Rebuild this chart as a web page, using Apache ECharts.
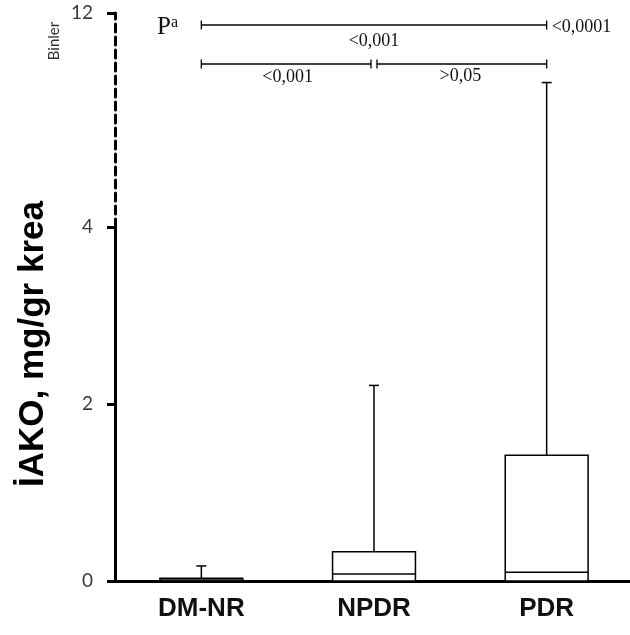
<!DOCTYPE html>
<html><head><meta charset="utf-8">
<script src="https://cdn.jsdelivr.net/npm/echarts@6.0.0/dist/echarts.min.js"></script>
<style>html,body{margin:0;padding:0;background:#fff}#c{width:630px;height:635px}</style>
</head><body><div id="c"></div>
<script>
// ---- data (values in thousands, "Binler") ----
const categories = ['DM-NR', 'NPDR', 'PDR'];
const minValues = [0, 0, 0];
const q1Values = [0, 0, 0];
const medianValues = [0.01, 0.08, 0.10];
const q3Values = [0.03, 0.33, 1.42];
const maxValues = [0.17, 2.21, 9.4];
const lowerTickValues = [0, 2, 4];
const upperTickValues = [12];
const overallP = '<0,0001';
const pairLabels = ['<0,001', '<0,001', '>0,05']; // DM-NR–PDR, DM-NR–NPDR, NPDR–PDR
const yTitle = 'İAKO, mg/gr krea';
const unitLabel = 'Binler';

const boxData = categories.map((c, i) => [i, minValues[i], q1Values[i], medianValues[i], q3Values[i], maxValues[i]]);

function renderBox(params, api) {
  const i = api.value(0);
  const cx = api.coord([i, 0])[0];
  const half = api.size([1, 0])[0] * 0.24;
  const yMin = api.coord([i, api.value(1)])[1];
  const yQ1 = api.coord([i, api.value(2)])[1];
  const yMed = api.coord([i, api.value(3)])[1];
  const yQ3 = api.coord([i, api.value(4)])[1];
  const yMax = api.coord([i, api.value(5)])[1];
  const st = { stroke: '#000', lineWidth: 1.5, fill: null };
  return {
    type: 'group',
    children: [
      { type: 'line', shape: { x1: cx, y1: yQ3, x2: cx, y2: yMax }, style: st },
      { type: 'line', shape: { x1: cx - 5, y1: yMax, x2: cx + 5, y2: yMax }, style: st },
      { type: 'line', shape: { x1: cx, y1: yQ1, x2: cx, y2: yMin }, style: st },
      { type: 'rect', shape: { x: cx - half, y: yQ3, width: 2 * half, height: yQ1 - yQ3 }, style: { stroke: '#000', lineWidth: 1.5, fill: '#fff' } },
      { type: 'line', shape: { x1: cx - half, y1: yMed, x2: cx + half, y2: yMed }, style: st }
    ]
  };
}

const chart = echarts.init(document.getElementById('c'), null, { renderer: 'canvas' });
const tickLabelStyle = { color: '#3a3a3a', fontFamily: 'Lato', fontSize: 19, margin: 22 };
const option = {
  backgroundColor: '#fff',
  animation: false,
  grid: [
    { left: 115, width: 518, top: 227, height: 354, outerBoundsMode: 'none', containLabel: false },
    { left: 115, width: 518, top: 13, height: 214, outerBoundsMode: 'none', containLabel: false }
  ],
  xAxis: [
    {
      type: 'category', gridIndex: 0, data: categories,
      axisLine: { lineStyle: { color: '#000', width: 3 } },
      axisTick: { alignWithLabel: true, length: 6, lineStyle: { color: '#000', width: 3 } },
      axisLabel: { color: '#111', fontFamily: 'Liberation Sans', fontWeight: 'bold', fontSize: 26, margin: 15 },
      splitLine: { show: false }
    },
    { type: 'category', gridIndex: 1, data: categories, show: false }
  ],
  yAxis: [
    {
      type: 'value', gridIndex: 0, min: 0, max: 4, interval: 2,
      axisLine: { show: true, lineStyle: { color: '#000', width: 3 } },
      axisTick: { show: true, length: 8, lineStyle: { color: '#000', width: 3 }, customValues: lowerTickValues },
      axisLabel: Object.assign({ customValues: lowerTickValues }, tickLabelStyle),
      splitLine: { show: false }
    },
    {
      type: 'value', gridIndex: 1, min: 4, max: 12, interval: 4,
      axisLine: { show: true, lineStyle: { color: '#000', width: 3, type: [8, 5] } },
      axisTick: { show: true, length: 8, lineStyle: { color: '#000', width: 3 }, customValues: upperTickValues },
      axisLabel: Object.assign({ customValues: upperTickValues }, tickLabelStyle),
      splitLine: { show: false }
    }
  ],
  series: [
    { type: 'custom', xAxisIndex: 0, yAxisIndex: 0, clip: true, renderItem: renderBox, encode: { x: 0, y: [1, 2, 3, 4, 5] }, data: boxData, z: 1 },
    { type: 'custom', xAxisIndex: 1, yAxisIndex: 1, clip: true, renderItem: renderBox, encode: { x: 0, y: [1, 2, 3, 4, 5] }, data: boxData, z: 1 }
  ]
};
chart.setOption(option);

// annotations positioned from the category axis
const px = i => chart.convertToPixel({ xAxisIndex: 0 }, categories[i]);
const x0 = px(0), x1 = px(1), x2 = px(2);
const lineSt = { stroke: '#000', lineWidth: 1.3 };
function bracket(xa, xb, y) {
  return [
    { type: 'line', shape: { x1: xa, y1: y, x2: xb, y2: y }, style: lineSt },
    { type: 'line', shape: { x1: xa, y1: y - 4.5, x2: xa, y2: y + 4.5 }, style: lineSt },
    { type: 'line', shape: { x1: xb, y1: y - 4.5, x2: xb, y2: y + 4.5 }, style: lineSt }
  ];
}
const serif = { fontFamily: 'Liberation Serif', fontSize: 18, fill: '#111' };
const graphics = [].concat(
  bracket(x0, x2, 25),
  bracket(x0, x1 - 3, 64),
  bracket(x1 + 3, x2, 64),
  [
    { type: 'text', x: x2 + 5, y: 27, style: Object.assign({ text: overallP, textAlign: 'left', textVerticalAlign: 'middle' }, serif) },
    { type: 'text', x: (x0 + x2) / 2, y: 41, style: Object.assign({ text: pairLabels[0], textAlign: 'center', textVerticalAlign: 'middle' }, serif) },
    { type: 'text', x: (x0 + x1) / 2, y: 77, style: Object.assign({ text: pairLabels[1], textAlign: 'center', textVerticalAlign: 'middle' }, serif) },
    { type: 'text', x: (x1 + x2) / 2, y: 76, style: Object.assign({ text: pairLabels[2], textAlign: 'center', textVerticalAlign: 'middle' }, serif) },
    { type: 'text', x: 157, y: 27, style: { text: '{p|P}{a|a}', textAlign: 'left', textVerticalAlign: 'middle', rich: { p: { fontFamily: 'Liberation Serif', fontSize: 25, fill: '#111', verticalAlign: 'bottom' }, a: { fontFamily: 'Liberation Serif', fontSize: 16, fill: '#111', verticalAlign: 'top', padding: [0, 0, 9, 0] } } } },
    { type: 'text', x: 54, y: 41, rotation: Math.PI / 2, style: { text: unitLabel, textAlign: 'center', textVerticalAlign: 'middle', fontFamily: 'Lato', fontSize: 15, fill: '#333' } },
    { type: 'text', x: 33, y: 344, rotation: Math.PI / 2, style: { text: yTitle, textAlign: 'center', textVerticalAlign: 'middle', fontFamily: 'Liberation Sans', fontWeight: 'bold', fontSize: 35, fill: '#000' } }
  ]
);
chart.setOption({ graphic: graphics });
</script>
</body></html>
